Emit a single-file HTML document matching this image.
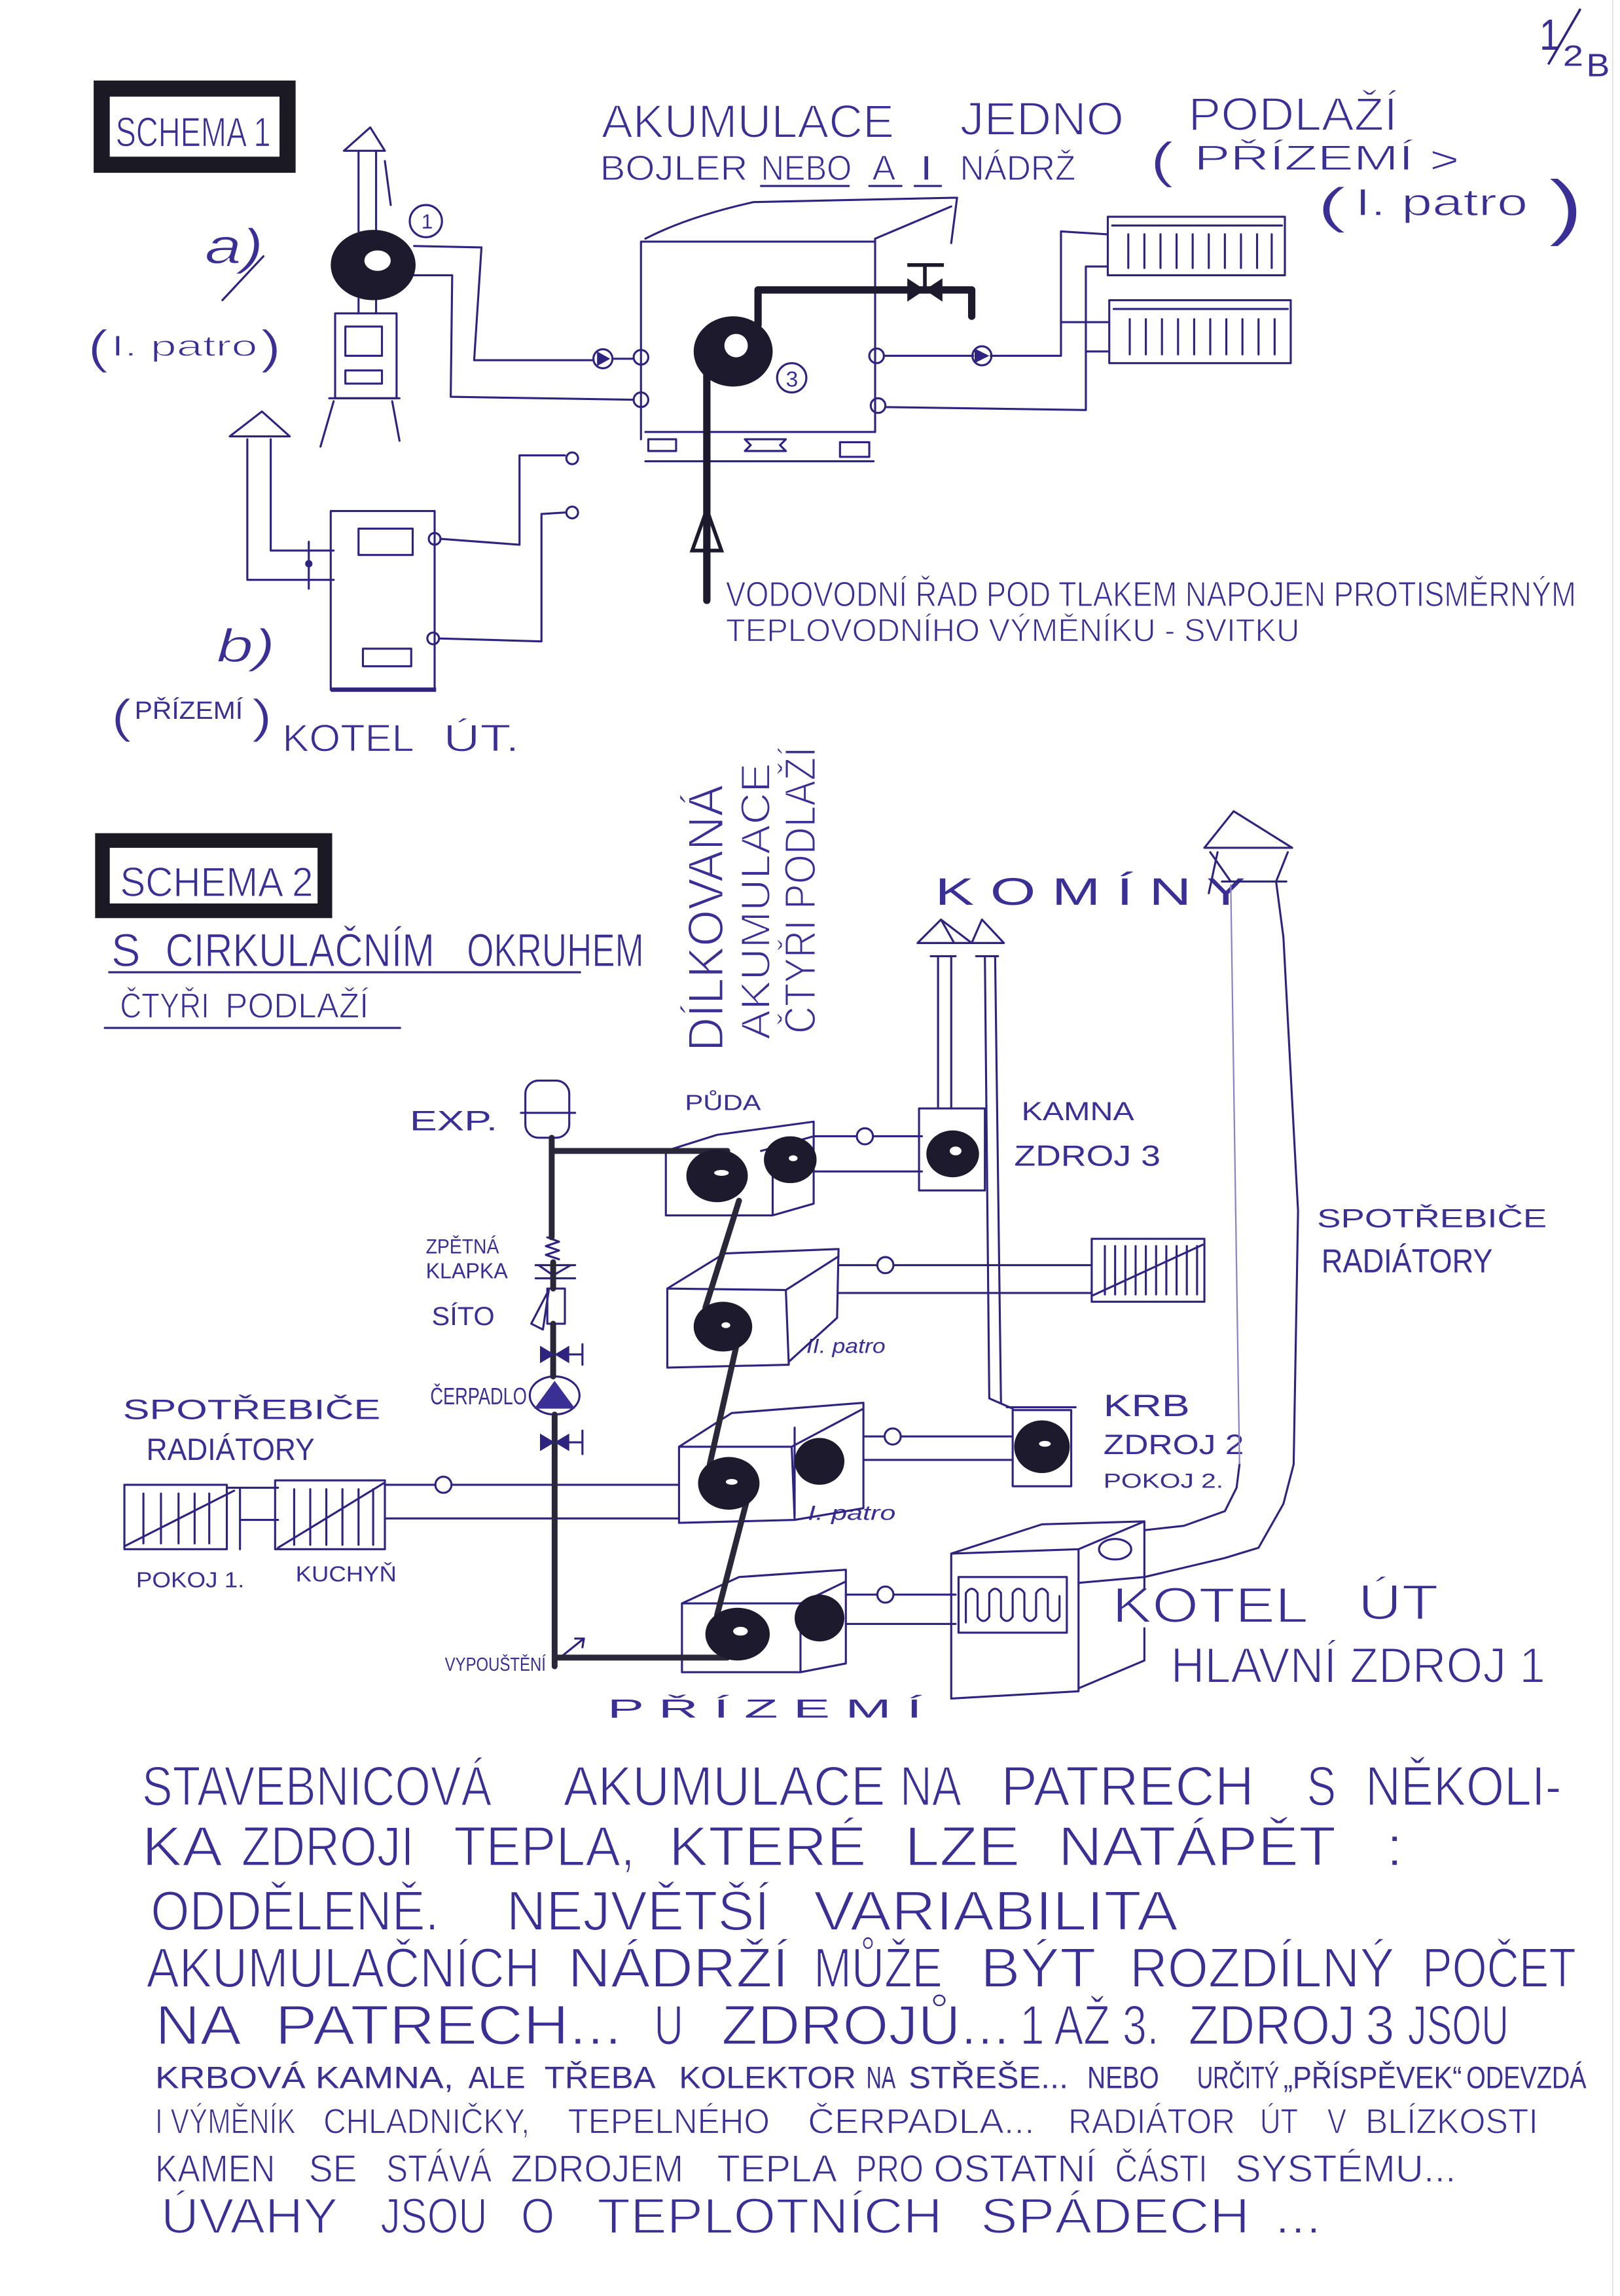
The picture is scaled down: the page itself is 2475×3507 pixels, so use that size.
<!DOCTYPE html>
<html><head><meta charset="utf-8"><title>Schema</title>
<style>
html,body{margin:0;padding:0;background:#fff;}
svg{display:block}
text{font-family:"Liberation Sans","DejaVu Sans",sans-serif;fill:#3a2f94}
.t1{stroke:#fff;stroke-width:0.9}
.t2{stroke:#fff;stroke-width:0.55}
</style></head><body>
<svg width="2475" height="3507" viewBox="0 0 1107 1568" preserveAspectRatio="none" xmlns="http://www.w3.org/2000/svg">
<rect width="1107" height="1568" fill="#fff"/>

<!-- ============ SCHEMA 1 ============ -->
<rect x="69.5" y="60.5" width="127" height="52" fill="#fff" stroke="#1b1a24" stroke-width="11"/>
<text class="t2" x="79" y="100" font-size="28" textLength="106" lengthAdjust="spacingAndGlyphs">SCHEMA 1</text>

<!-- page number -->
<text x="1052" y="34" font-size="30" textLength="14" lengthAdjust="spacingAndGlyphs">1</text>
<path d="M1058,44 L1080,6" stroke="#2e2480" stroke-width="1.6" fill="none"/>
<text x="1068" y="45" font-size="20" textLength="14" lengthAdjust="spacingAndGlyphs">2</text>
<text x="1084" y="52" font-size="22" textLength="16" lengthAdjust="spacingAndGlyphs">B</text>

<!-- heading -->
<g class="t1">
<text x="411" y="94" font-size="32" textLength="200" lengthAdjust="spacingAndGlyphs">AKUMULACE</text>
<text x="656" y="92" font-size="32" textLength="112" lengthAdjust="spacingAndGlyphs">JEDNO</text>
<text x="812" y="89" font-size="32" textLength="143" lengthAdjust="spacingAndGlyphs">PODLAŽÍ</text>
</g>
<g class="t2">
<text x="410" y="123" font-size="24" textLength="101" lengthAdjust="spacingAndGlyphs">BOJLER</text>
<text x="520" y="123" font-size="24" textLength="62" lengthAdjust="spacingAndGlyphs">NEBO</text>
<text x="596" y="123" font-size="24" textLength="16" lengthAdjust="spacingAndGlyphs">A</text>
<text x="628" y="123" font-size="24" textLength="10" lengthAdjust="spacingAndGlyphs">I</text>
<text x="656" y="123" font-size="24" textLength="79" lengthAdjust="spacingAndGlyphs">NÁDRŽ</text>
<text x="786" y="121" font-size="34" textLength="16" lengthAdjust="spacingAndGlyphs">(</text>
<text x="816" y="116" font-size="24" textLength="150" lengthAdjust="spacingAndGlyphs">PŘÍZEMÍ</text>
<text x="977" y="118" font-size="26" textLength="20" lengthAdjust="spacingAndGlyphs">&gt;</text>
<text x="900" y="152" font-size="34" textLength="20" lengthAdjust="spacingAndGlyphs">(</text>
<text x="926" y="147" font-size="26" textLength="118" lengthAdjust="spacingAndGlyphs">I. patro</text>
<text x="1058" y="158" font-size="50" textLength="24" lengthAdjust="spacingAndGlyphs">)</text>
</g>

<g fill="none" stroke="#2e2480" stroke-width="1.4" stroke-linecap="round" stroke-linejoin="round">
  <path d="M520,127 H580 M594,127 H616 M625,127 H643"/>
  <path d="M253,87 L235,103 L263,103 Z"/>
  <path d="M245,103 V158 M257,103 V158 M245,204 V214 M257,204 V214 M263,110 L267,140"/>
  <circle cx="291" cy="151" r="11"/>
  <rect x="229" y="214" width="42" height="58"/>
  <rect x="236" y="223" width="25" height="20"/>
  <rect x="236" y="253" width="25" height="9"/>
  <path d="M225,272 H273 M228,274 L219,305 M268,274 L273,301"/>
  <path d="M283,168 L329,169 L324,246 L405,246 M419,245 H433"/>
  <path d="M282,188 L309,188 L308,271 L433,273"/>
  <circle cx="412" cy="245" r="6.5"/>
  <circle cx="438" cy="244" r="5"/>
  <circle cx="438" cy="273" r="5"/>
  <path d="M438,165 V300 M598,163 V295 M438,165 H598"/>
  <path d="M441,163 Q470,148 515,138 L654,135 M598,163 L650,141 M654,135 L650,166"/>
  <path d="M441,295 H598 M441,315 H597"/>
  <rect x="443" y="300" width="19" height="8"/>
  <path d="M509,300 L537,300 L533,304 L537,308 L509,308 L513,304 Z"/>
  <rect x="574" y="302" width="20" height="10"/>
  <circle cx="541" cy="258" r="10"/>
  <circle cx="599" cy="243" r="5"/>
  <circle cx="600" cy="277" r="5"/>
  <path d="M604,243 H665 M677,243 H725 M725,158 V243 M725,158 L756,160 M725,220 H758"/>
  <circle cx="671" cy="243" r="6.5"/>
  <path d="M605,278 L742,280 V182 H757 M742,240 H758"/>
  <rect x="757" y="148" width="121" height="40"/>
  <path d="M760,154 H876"/>
  <path d="M771,160 V183 M782,160 V183 M793,160 V183 M804,160 V183 M815,160 V183 M826,160 V183 M837,160 V183 M848,160 V183 M859,160 V183 M869,160 V183"/>
  <rect x="758" y="205" width="124" height="43"/>
  <path d="M761,211 H880"/>
  <path d="M772,218 V242 M783,218 V242 M794,218 V242 M805,218 V242 M816,218 V242 M827,218 V242 M838,218 V242 M849,218 V242 M860,218 V242 M871,218 V242"/>
  <rect x="226" y="349" width="71" height="122"/>
  <rect x="245" y="361" width="37" height="18"/>
  <rect x="248" y="443" width="33" height="12"/>
  <path d="M179,281 L157,298 L198,298 Z"/>
  <path d="M169,300 V396 H228 M185,300 V376 H228 M211,370 V402"/>
  <circle cx="297" cy="368" r="4"/>
  <path d="M301,368 L355,372 V311 L386,311"/>
  <circle cx="391" cy="313" r="4"/>
  <circle cx="296" cy="436" r="4"/>
  <path d="M300,436 L370,438 V351 L386,350"/>
  <circle cx="391" cy="350" r="4"/>
  <path d="M152,205 L180,175"/>
</g>
<path d="M226,471 H298" stroke="#2e2480" stroke-width="3"/>
<circle cx="211" cy="385" r="2.5" fill="#2e2480"/>
<path d="M408,240 L417,245 L408,250 Z M666,238 L676,243 L666,248 Z" fill="#2e2480"/>

<ellipse cx="255" cy="181" rx="29" ry="24" fill="#1c1a2c"/>
<ellipse cx="258" cy="178" rx="9" ry="7" fill="#fff"/>
<ellipse cx="501" cy="240" rx="27" ry="24" fill="#1c1a2c"/>
<ellipse cx="503" cy="236" rx="8" ry="8" fill="#fff"/>
<g fill="none" stroke="#1c1a2c" stroke-width="5" stroke-linecap="round" stroke-linejoin="round">
  <path d="M483,255 V410"/>
  <path d="M518,222 V198 H664 V216"/>
</g>
<path d="M473,376 L483,348 L493,376 Z" fill="none" stroke="#1c1a2c" stroke-width="2.5"/>
<path d="M620,190 L644,206 L644,190 L620,206 Z" fill="#1c1a2c"/>
<path d="M632,198 V181 M620,181 H645" stroke="#1c1a2c" stroke-width="2.5" fill="none"/>

<text x="288" y="156" font-size="14">1</text>
<text x="537" y="264" font-size="15">3</text>
<g class="t2">
<text x="140" y="180" font-size="34" font-style="italic" textLength="40" lengthAdjust="spacingAndGlyphs">a)</text>
<text x="60" y="248" font-size="32" textLength="14" lengthAdjust="spacingAndGlyphs">(</text>
<text x="76" y="243" font-size="20" textLength="100" lengthAdjust="spacingAndGlyphs">I. patro</text>
<text x="178" y="248" font-size="32" textLength="14" lengthAdjust="spacingAndGlyphs">)</text>
<text x="148" y="452" font-size="32" font-style="italic" textLength="40" lengthAdjust="spacingAndGlyphs">b)</text>
<text x="76" y="500" font-size="32" textLength="14" lengthAdjust="spacingAndGlyphs">(</text>
<text x="172" y="500" font-size="32" textLength="14" lengthAdjust="spacingAndGlyphs">)</text>
<text x="193" y="513" font-size="26" textLength="90" lengthAdjust="spacingAndGlyphs">KOTEL</text>
<text x="303" y="513" font-size="26" textLength="52" lengthAdjust="spacingAndGlyphs">ÚT.</text>
<text x="496" y="414" font-size="24" textLength="581" lengthAdjust="spacingAndGlyphs">VODOVODNÍ ŘAD POD TLAKEM NAPOJEN PROTISMĚRNÝM</text>
<text x="496" y="438" font-size="22" textLength="392" lengthAdjust="spacingAndGlyphs">TEPLOVODNÍHO VÝMĚNÍKU - SVITKU</text>
</g>
<text x="92" y="491" font-size="17" textLength="74" lengthAdjust="spacingAndGlyphs">PŘÍZEMÍ</text>

<!-- ============ SCHEMA 2 ============ -->
<rect x="70" y="574" width="152" height="48" fill="#fff" stroke="#1b1a24" stroke-width="10"/>
<g class="t2">
<text x="82" y="612" font-size="28" textLength="132" lengthAdjust="spacingAndGlyphs">SCHEMA 2</text>
<text x="76" y="660" font-size="32" textLength="20" lengthAdjust="spacingAndGlyphs">S</text>
<text x="113" y="660" font-size="32" textLength="184" lengthAdjust="spacingAndGlyphs">CIRKULAČNÍM</text>
<text x="319" y="660" font-size="32" textLength="121" lengthAdjust="spacingAndGlyphs">OKRUHEM</text>
<text x="82" y="695" font-size="24" textLength="61" lengthAdjust="spacingAndGlyphs">ČTYŘI</text>
<text x="154" y="695" font-size="24" textLength="98" lengthAdjust="spacingAndGlyphs">PODLAŽÍ</text>
</g>
<g stroke="#2e2480" stroke-width="1.4" fill="none">
  <path d="M74,664 H397 M71,702 H274"/>
</g>

<g class="t1">
<text transform="translate(494,718) rotate(-90)" font-size="34" textLength="182" lengthAdjust="spacingAndGlyphs">DÍLKOVANÁ</text>
<text transform="translate(526,710) rotate(-90)" font-size="28" textLength="189" lengthAdjust="spacingAndGlyphs">AKUMULACE</text>
<text transform="translate(557,706) rotate(-90)" font-size="30" textLength="196" lengthAdjust="spacingAndGlyphs">ČTYŘI PODLAŽÍ</text>
</g>

<text x="280" y="772" font-size="19" textLength="60" lengthAdjust="spacingAndGlyphs">EXP.</text>
<text x="468" y="758" font-size="15" textLength="52" lengthAdjust="spacingAndGlyphs">PŮDA</text>
<text x="291" y="856" font-size="14" textLength="50" lengthAdjust="spacingAndGlyphs">ZPĚTNÁ</text>
<text x="291" y="873" font-size="15" textLength="56" lengthAdjust="spacingAndGlyphs">KLAPKA</text>
<text x="295" y="905" font-size="18" textLength="43" lengthAdjust="spacingAndGlyphs">SÍTO</text>
<text x="294" y="959" font-size="16" textLength="66" lengthAdjust="spacingAndGlyphs">ČERPADLO</text>
<text x="304" y="1141" font-size="13" textLength="69" lengthAdjust="spacingAndGlyphs">VYPOUŠTĚNÍ</text>
<text x="84" y="969" font-size="19" textLength="176" lengthAdjust="spacingAndGlyphs">SPOTŘEBIČE</text>
<text x="100" y="997" font-size="21" textLength="115" lengthAdjust="spacingAndGlyphs">RADIÁTORY</text>
<text x="93" y="1084" font-size="15" textLength="74" lengthAdjust="spacingAndGlyphs">POKOJ 1.</text>
<text x="202" y="1080" font-size="15" textLength="69" lengthAdjust="spacingAndGlyphs">KUCHYŇ</text>
<text x="551" y="924" font-size="14" font-style="italic" textLength="54" lengthAdjust="spacingAndGlyphs">II. patro</text>
<text x="552" y="1038" font-size="14" font-style="italic" textLength="60" lengthAdjust="spacingAndGlyphs">I. patro</text>
<text x="415" y="1173" font-size="18" textLength="215" lengthAdjust="spacingAndGlyphs">P Ř Í Z E M Í</text>
<text x="639" y="618" font-size="26" textLength="212" lengthAdjust="spacingAndGlyphs">K O M Í N Y</text>
<text x="698" y="765" font-size="18" textLength="77" lengthAdjust="spacingAndGlyphs">KAMNA</text>
<text x="693" y="796" font-size="20" textLength="100" lengthAdjust="spacingAndGlyphs">ZDROJ 3</text>
<text x="900" y="838" font-size="18" textLength="157" lengthAdjust="spacingAndGlyphs">SPOTŘEBIČE</text>
<text x="903" y="869" font-size="23" textLength="117" lengthAdjust="spacingAndGlyphs">RADIÁTORY</text>
<text x="754" y="967" font-size="21" textLength="59" lengthAdjust="spacingAndGlyphs">KRB</text>
<text x="754" y="993" font-size="19" textLength="96" lengthAdjust="spacingAndGlyphs">ZDROJ 2</text>
<text x="754" y="1016" font-size="14" textLength="82" lengthAdjust="spacingAndGlyphs">POKOJ 2.</text>
<g class="t1">
<text x="760" y="1108" font-size="34" textLength="134" lengthAdjust="spacingAndGlyphs">KOTEL</text>
<text x="928" y="1106" font-size="34" textLength="55" lengthAdjust="spacingAndGlyphs">ÚT</text>
<text x="800" y="1149" font-size="34" textLength="256" lengthAdjust="spacingAndGlyphs">HLAVNÍ ZDROJ 1</text>
</g>

<g fill="none" stroke="#2e2480" stroke-width="1.4" stroke-linecap="round" stroke-linejoin="round">
  <rect x="359" y="738" width="30" height="39" rx="9"/>
  <path d="M356,760 H393"/>
  <path d="M366,864 H393 M366,873 H393 M368,864 L378,871 L390,864"/>
  <path d="M374,845 L382,848 L373,851 L382,854 L373,857 L382,860"/>
  <rect x="374" y="880" width="12" height="24"/>
  <path d="M363,904 L375,881 L371,908 Z"/>
  <path d="M381,925 H398 M398,918 V932 M381,985 H398 M398,977 V993"/>
  <ellipse cx="379" cy="953" rx="17" ry="13"/>
  <path d="M455,786 V830 H528 V786 M455,786 L490,775 L556,766 V822 L528,830 M520,786 L556,776"/>
  <path d="M556,776 H585 M597,776 H630 M556,800 H630"/>
  <circle cx="591" cy="776" r="5.5"/>
  <rect x="628" y="757" width="45" height="56"/>
  <path d="M643,628 L627,644 L664,644 Z M636,653 H653 M643,628 L652,644"/>
  <path d="M671,628 L664,644 L686,644 Z M667,653 H682"/>
  <path d="M641,653 V757 M650,653 V757"/>
  <path d="M673,653 L676,955 L692,962 M680,653 L684,958"/>
  <path d="M456,880 V934 L539,932 L537,881 Z M456,880 L495,856 L573,853 L572,900 L539,930 M537,881 L573,858"/>
  <path d="M573,864 H599 M611,864 H746 M573,883 H746"/>
  <circle cx="605" cy="864" r="5.5"/>
  <rect x="746" y="846" width="77" height="43"/>
  <path d="M755,851 V884 M762,851 V884 M769,851 V884 M776,851 V884 M783,851 V884 M790,851 V884 M797,851 V884 M804,851 V884 M811,851 V884 M818,851 V884 M746,885 L822,850"/>
  <path d="M464,988 V1040 L543,1038 L541,988 Z M464,988 L500,965 L590,958 V1030 L543,1038 M541,988 L590,962 M543,975 V1035"/>
  <path d="M590,981 H604 M616,981 H692 M590,997 H692"/>
  <circle cx="610" cy="981" r="5.5"/>
  <rect x="692" y="963" width="40" height="52"/>
  <path d="M688,961 H735"/>
  <path d="M466,1095 V1142 L547,1142 L547,1095 Z M466,1095 L505,1077 L578,1072 V1136 L547,1142 M547,1095 L578,1080"/>
  <path d="M578,1089 H599 M611,1089 H653 M578,1109 H653"/>
  <circle cx="605" cy="1089" r="5.5"/>
  <rect x="85" y="1014" width="70" height="44"/>
  <path d="M155,1016 H164 V1058 M164,1016 H190 M164,1038 H190"/>
  <path d="M98,1020 V1054 M110,1020 V1054 M122,1020 V1054 M133,1020 V1054 M143,1020 V1054 M85,1056 L160,1018"/>
  <rect x="188" y="1011" width="75" height="47"/>
  <path d="M201,1017 V1055 M212,1017 V1055 M223,1017 V1055 M234,1017 V1055 M245,1017 V1055 M255,1017 V1055 M190,1057 L262,1013"/>
  <path d="M263,1014 H297 M309,1014 H464 M263,1037 H464"/>
  <circle cx="303" cy="1014" r="5.5"/>
  <path d="M650,1061 V1160 L737,1155 V1058 Z M650,1061 L712,1041 L782,1039 L737,1058 M782,1039 V1085 M782,1112 V1134 L737,1153"/>
  <path d="M737,1081 L782,1077"/>
  <ellipse cx="762" cy="1058" rx="11" ry="7"/>
  <rect x="655" y="1077" width="74" height="38"/>
  <path d="M660,1108 V1088 Q664,1082 668,1088 V1104 Q672,1110 676,1104 V1088 Q680,1082 684,1088 V1104 Q688,1110 692,1104 V1088 Q696,1082 700,1088 V1104 Q704,1110 708,1104 V1088 Q712,1082 716,1088 V1104 Q720,1110 724,1104 V1090"/>
  <path d="M843,554 L823,579 L883,579 Z M835,602 H879 M827,582 L841,602 M880,582 L872,602 M826,610 L832,582"/>
  <path d="M872,602 L877,640 L887,827 L884,1000 L877,1027 L860,1057 L837,1064 L782,1077"/>
  <path d="M782,1045 L809,1042 L837,1032 L845,1016 L847,1000" />
  <path d="M384,1131 L399,1119 M393,1119 L399,1119 L398,1125"/>
</g>
<path d="M841,604 L847,1000" stroke="#8a82c4" stroke-width="1" fill="none"/>
<path d="M1102,0 V1568" stroke="#e6e6e6" stroke-width="1"/>

<g fill="none" stroke="#2a2838" stroke-width="4" stroke-linecap="round" stroke-linejoin="round">
  <path d="M377,777 V845 M378,862 V880 M378,904 V940 M379,966 V1138"/>
  <path d="M377,786 H497"/>
  <path d="M379,1132 H497"/>
  <path d="M505,820 L482,893"/>
  <path d="M503,920 L485,1000"/>
  <path d="M510,1026 L490,1103"/>
</g>
<path d="M369,919 L389,931 L389,919 L369,931 Z M369,979 L389,991 L389,979 L369,991 Z" fill="#2e2480"/>
<path d="M379,943 L365,962 L393,962 Z" fill="#3a2f94"/>

<g fill="#1c1a2c">
  <ellipse cx="490" cy="803" rx="21" ry="18"/>
  <ellipse cx="540" cy="792" rx="18" ry="16"/>
  <ellipse cx="494" cy="906" rx="20" ry="17"/>
  <ellipse cx="498" cy="1013" rx="21" ry="18"/>
  <ellipse cx="560" cy="998" rx="17" ry="16"/>
  <ellipse cx="504" cy="1116" rx="22" ry="18"/>
  <ellipse cx="560" cy="1105" rx="17" ry="16"/>
  <ellipse cx="651" cy="788" rx="18" ry="16"/>
  <ellipse cx="712" cy="988" rx="19" ry="18"/>
</g>
<g fill="#fff">
  <ellipse cx="493" cy="801" rx="5" ry="2"/>
  <ellipse cx="542" cy="791" rx="3" ry="2"/>
  <ellipse cx="496" cy="905" rx="3" ry="2"/>
  <ellipse cx="500" cy="1012" rx="4" ry="2"/>
  <ellipse cx="506" cy="1114" rx="5" ry="3"/>
  <ellipse cx="653" cy="786" rx="4" ry="3"/>
  <ellipse cx="714" cy="986" rx="4" ry="2"/>
</g>

<!-- ============ BOTTOM TEXT ============ -->
<g font-size="38" class="t1">
<text x="97" y="1233" textLength="239" lengthAdjust="spacingAndGlyphs">STAVEBNICOVÁ</text>
<text x="385" y="1233" textLength="220" lengthAdjust="spacingAndGlyphs">AKUMULACE</text>
<text x="615" y="1233" textLength="42" lengthAdjust="spacingAndGlyphs">NA</text>
<text x="684" y="1233" textLength="173" lengthAdjust="spacingAndGlyphs">PATRECH</text>
<text x="893" y="1233" textLength="20" lengthAdjust="spacingAndGlyphs">S</text>
<text x="933" y="1233" textLength="134" lengthAdjust="spacingAndGlyphs">NĚKOLI-</text>

<text x="97" y="1274" textLength="55" lengthAdjust="spacingAndGlyphs">KA</text>
<text x="165" y="1274" textLength="118" lengthAdjust="spacingAndGlyphs">ZDROJI</text>
<text x="310" y="1274" textLength="124" lengthAdjust="spacingAndGlyphs">TEPLA,</text>
<text x="457" y="1274" textLength="135" lengthAdjust="spacingAndGlyphs">KTERÉ</text>
<text x="618" y="1274" textLength="79" lengthAdjust="spacingAndGlyphs">LZE</text>
<text x="723" y="1274" textLength="190" lengthAdjust="spacingAndGlyphs">NATÁPĚT</text>
<text x="947" y="1274" textLength="12" lengthAdjust="spacingAndGlyphs">:</text>

<text x="103" y="1318" textLength="197" lengthAdjust="spacingAndGlyphs">ODDĚLENĚ.</text>
<text x="346" y="1318" textLength="180" lengthAdjust="spacingAndGlyphs">NEJVĚTŠÍ</text>
<text x="556" y="1318" textLength="249" lengthAdjust="spacingAndGlyphs">VARIABILITA</text>

<text x="100" y="1357" textLength="269" lengthAdjust="spacingAndGlyphs">AKUMULAČNÍCH</text>
<text x="388" y="1357" textLength="151" lengthAdjust="spacingAndGlyphs">NÁDRŽÍ</text>
<text x="556" y="1357" textLength="88" lengthAdjust="spacingAndGlyphs">MŮŽE</text>
<text x="670" y="1357" textLength="79" lengthAdjust="spacingAndGlyphs">BÝT</text>
<text x="772" y="1357" textLength="181" lengthAdjust="spacingAndGlyphs">ROZDÍLNÝ</text>
<text x="972" y="1357" textLength="105" lengthAdjust="spacingAndGlyphs">POČET</text>

<text x="106" y="1396" textLength="59" lengthAdjust="spacingAndGlyphs">NA</text>
<text x="188" y="1396" textLength="237" lengthAdjust="spacingAndGlyphs">PATRECH...</text>
<text x="447" y="1396" textLength="20" lengthAdjust="spacingAndGlyphs">U</text>
<text x="493" y="1396" textLength="197" lengthAdjust="spacingAndGlyphs">ZDROJŮ...</text>
<text x="697" y="1396" textLength="95" lengthAdjust="spacingAndGlyphs">1 AŽ 3.</text>
<text x="812" y="1396" textLength="114" lengthAdjust="spacingAndGlyphs">ZDROJ</text>
<text x="933" y="1396" textLength="20" lengthAdjust="spacingAndGlyphs">3</text>
<text x="962" y="1396" textLength="69" lengthAdjust="spacingAndGlyphs">JSOU</text>
</g>
<g font-size="21">
<text x="106" y="1426" textLength="204" lengthAdjust="spacingAndGlyphs">KRBOVÁ KAMNA,</text>
<text x="320" y="1426" textLength="39" lengthAdjust="spacingAndGlyphs">ALE</text>
<text x="372" y="1426" textLength="76" lengthAdjust="spacingAndGlyphs">TŘEBA</text>
<text x="464" y="1426" textLength="121" lengthAdjust="spacingAndGlyphs">KOLEKTOR</text>
<text x="592" y="1426" textLength="20" lengthAdjust="spacingAndGlyphs">NA</text>
<text x="621" y="1426" textLength="109" lengthAdjust="spacingAndGlyphs">STŘEŠE...</text>
<text x="743" y="1426" textLength="49" lengthAdjust="spacingAndGlyphs">NEBO</text>
<text x="818" y="1426" textLength="56" lengthAdjust="spacingAndGlyphs">URČITÝ</text>
<text x="877" y="1426" textLength="122" lengthAdjust="spacingAndGlyphs">„PŘÍSPĚVEK“</text>
<text x="1002" y="1426" textLength="82" lengthAdjust="spacingAndGlyphs">ODEVZDÁ</text>
</g>
<g font-size="24" class="t2">
<text x="106" y="1457" textLength="96" lengthAdjust="spacingAndGlyphs">I VÝMĚNÍK</text>
<text x="221" y="1457" textLength="141" lengthAdjust="spacingAndGlyphs">CHLADNIČKY,</text>
<text x="388" y="1457" textLength="138" lengthAdjust="spacingAndGlyphs">TEPELNÉHO</text>
<text x="552" y="1457" textLength="155" lengthAdjust="spacingAndGlyphs">ČERPADLA...</text>
<text x="730" y="1457" textLength="114" lengthAdjust="spacingAndGlyphs">RADIÁTOR</text>
<text x="861" y="1457" textLength="26" lengthAdjust="spacingAndGlyphs">ÚT</text>
<text x="907" y="1457" textLength="13" lengthAdjust="spacingAndGlyphs">V</text>
<text x="933" y="1457" textLength="118" lengthAdjust="spacingAndGlyphs">BLÍZKOSTI</text>
</g>
<g font-size="26" class="t2">
<text x="106" y="1490" textLength="82" lengthAdjust="spacingAndGlyphs">KAMEN</text>
<text x="211" y="1490" textLength="33" lengthAdjust="spacingAndGlyphs">SE</text>
<text x="264" y="1490" textLength="72" lengthAdjust="spacingAndGlyphs">STÁVÁ</text>
<text x="349" y="1490" textLength="118" lengthAdjust="spacingAndGlyphs">ZDROJEM</text>
<text x="490" y="1490" textLength="82" lengthAdjust="spacingAndGlyphs">TEPLA</text>
<text x="585" y="1490" textLength="46" lengthAdjust="spacingAndGlyphs">PRO</text>
<text x="638" y="1490" textLength="111" lengthAdjust="spacingAndGlyphs">OSTATNÍ</text>
<text x="762" y="1490" textLength="63" lengthAdjust="spacingAndGlyphs">ČÁSTI</text>
<text x="844" y="1490" textLength="151" lengthAdjust="spacingAndGlyphs">SYSTÉMU...</text>
</g>
<g font-size="34" class="t1">
<text x="110" y="1525" textLength="121" lengthAdjust="spacingAndGlyphs">ÚVAHY</text>
<text x="260" y="1525" textLength="73" lengthAdjust="spacingAndGlyphs">JSOU</text>
<text x="356" y="1525" textLength="23" lengthAdjust="spacingAndGlyphs">O</text>
<text x="408" y="1525" textLength="236" lengthAdjust="spacingAndGlyphs">TEPLOTNÍCH</text>
<text x="670" y="1525" textLength="184" lengthAdjust="spacingAndGlyphs">SPÁDECH</text>
<text x="871" y="1525" textLength="32" lengthAdjust="spacingAndGlyphs">...</text>
</g>
</svg>
</body></html>
